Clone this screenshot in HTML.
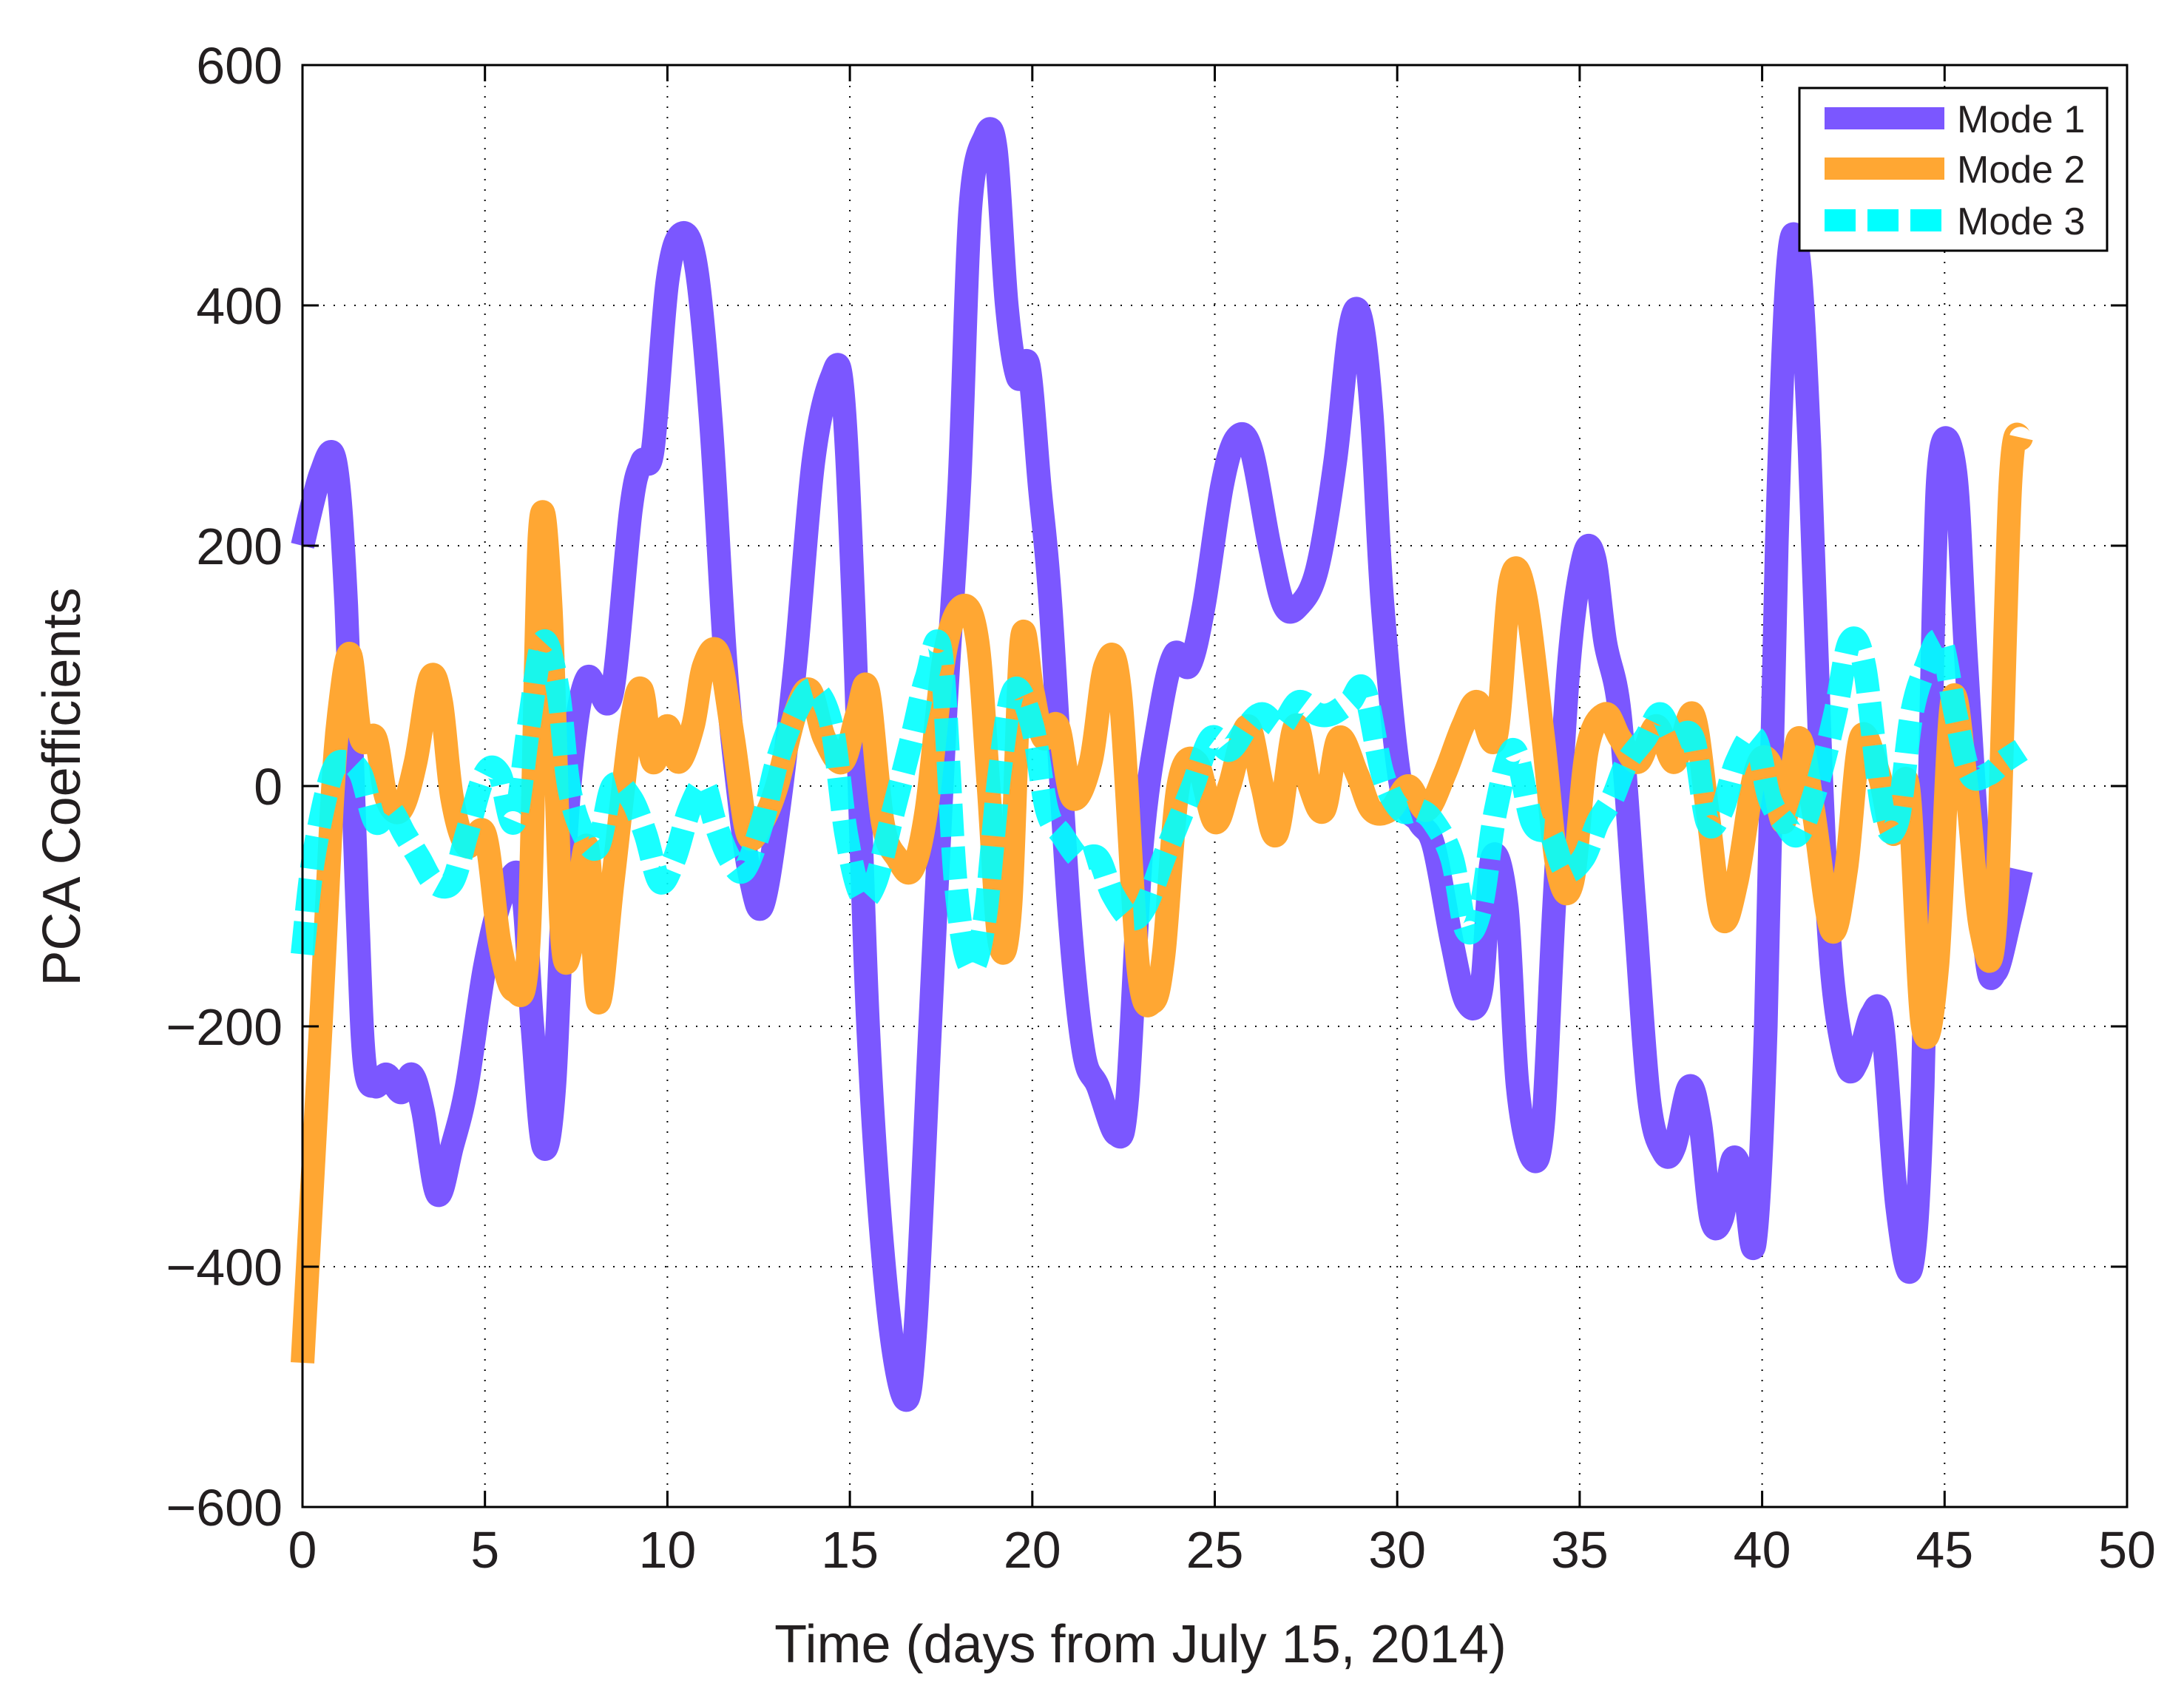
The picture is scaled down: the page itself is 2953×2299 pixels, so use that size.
<!DOCTYPE html>
<html><head><meta charset="utf-8">
<style>
html,body{margin:0;padding:0;background:#fff;}
svg{display:block;font-family:"Liberation Sans","DejaVu Sans",sans-serif;}
</style></head>
<body>
<svg id="chart" width="2953" height="2299" viewBox="0 0 2953 2299" xmlns="http://www.w3.org/2000/svg">
<rect x="0" y="0" width="2953" height="2299" fill="#fff"/>
<g id="grid"></g>
<g id="series"></g>
<rect x="409" y="88" width="2467" height="1950" fill="none" stroke="#000" stroke-width="3"/>
<g id="ticks"></g>
<text x="1542" y="2248" font-size="72" text-anchor="middle" fill="#231f20">Time (days from July 15, 2014)</text>
<text transform="translate(108,1064) rotate(-90)" font-size="72" text-anchor="middle" fill="#231f20">PCA Coefficients</text>
<g>
<rect x="2433" y="119" width="416" height="220" fill="#fff" stroke="#000" stroke-width="3"/>
<line x1="2467" y1="160" x2="2629" y2="160" stroke="#7b57ff" stroke-width="30"/>
<text x="2646" y="179" font-size="52" fill="#231f20">Mode 1</text>
<line x1="2467" y1="228" x2="2629" y2="228" stroke="#ffa733" stroke-width="30"/>
<text x="2646" y="247" font-size="52" fill="#231f20">Mode 2</text>
<line x1="2467" y1="298" x2="2629" y2="298" stroke="#00ffff" stroke-width="30" stroke-dasharray="42,16"/>
<text x="2646" y="317" font-size="52" fill="#231f20">Mode 3</text>
</g>
</svg>
<script>
const xTicks = [0,5,10,15,20,25,30,35,40,45,50];
const yTicks = [-600,-400,-200,0,200,400,600];
const yTickLabels = ["\u2212600","\u2212400","\u2212200","0","200","400","600"];
const mode1Days = [0,0.5,0.9,1.2,1.5,1.7,2,2.3,2.7,3,3.3,3.7,4.1,4.5,5,5.5,6,6.3,6.6,6.9,7.2,7.5,7.8,8.1,8.5,9,9.3,9.6,10,10.4,10.8,11.2,11.6,12,12.3,12.6,13,13.5,14,14.5,14.8,15.1,15.5,16,16.5,16.8,17.2,17.6,18,18.3,18.7,19,19.3,19.6,19.9,20.2,20.5,21,21.4,21.8,22.3,22.6,23,23.5,23.9,24.3,24.7,25.2,25.6,26,26.5,26.9,27.3,27.8,28.3,28.7,29,29.3,29.6,30.1,30.6,31,31.5,31.9,32.3,32.6,33,33.3,33.7,34,34.3,34.7,35.1,35.4,35.7,36.1,36.5,36.9,37.3,37.6,38,38.3,38.6,38.9,39.2,39.5,39.8,40.1,40.4,40.7,41,41.3,41.6,41.9,42.3,42.6,43,43.3,43.7,44.1,44.4,44.7,44.9,45.3,45.6,46.1,46.4,46.8,47.1];
const mode1Values = [200,260,270,150,-100,-230,-250,-240,-255,-240,-270,-340,-300,-250,-150,-90,-80,-200,-300,-250,-50,50,90,80,80,230,270,280,420,460,430,300,100,-20,-80,-100,-30,100,270,340,330,150,-200,-420,-510,-450,-200,50,250,480,540,530,400,340,350,250,150,-100,-220,-250,-290,-260,-50,60,110,100,150,250,290,280,200,150,150,180,270,380,390,310,150,0,-30,-50,-130,-180,-170,-60,-100,-250,-310,-280,-100,100,190,190,120,60,-100,-260,-305,-300,-250,-280,-360,-360,-310,-330,-380,-200,200,430,440,280,20,-150,-230,-230,-190,-200,-350,-400,-250,150,280,260,100,-130,-155,-110,-70];
const mode2Days = [0,0.5,0.8,1,1.3,1.6,2,2.3,2.7,3.1,3.5,3.8,4.1,4.5,5,5.4,5.8,6.2,6.5,6.8,7.1,7.4,7.8,8.1,8.5,9,9.3,9.6,10,10.3,10.7,11,11.4,11.8,12.2,12.6,13,13.5,13.9,14.3,14.8,15.2,15.5,15.9,16.3,16.7,17.1,17.6,18.1,18.5,18.8,19.1,19.4,19.7,20,20.3,20.7,21.1,21.6,22,22.4,22.9,23.3,23.6,24,24.5,25,25.4,25.9,26.3,26.7,27.2,27.6,28,28.4,28.9,29.3,29.8,30.3,30.8,31.3,31.8,32.2,32.7,33.1,33.5,34,34.4,34.8,35.2,35.7,36.1,36.6,37.1,37.6,38.1,38.5,38.9,39.3,39.8,40.2,40.6,41,41.4,41.9,42.3,42.7,43.2,43.6,44,44.4,44.8,45.2,45.6,46,46.4,46.8,47.1];
const mode2Values = [-480,-200,-20,60,110,40,40,-10,-20,20,90,70,-10,-50,-40,-130,-170,-130,210,150,-120,-130,-50,-180,-80,50,80,20,50,20,50,100,110,40,-40,-30,0,60,80,40,20,60,80,-30,-60,-70,-20,110,150,120,0,-130,-100,120,80,40,50,-10,20,100,80,-150,-180,-140,0,20,-30,0,50,0,-40,50,0,-20,40,10,-20,-20,0,-20,10,50,70,40,170,160,40,-70,-80,30,60,40,20,50,20,60,-20,-110,-80,10,20,-30,40,-20,-120,-70,40,10,-40,0,-200,-150,70,0,-120,-110,250,290];
const mode3Days = [0,0.3,0.8,1.2,1.6,2,2.4,2.8,3.2,3.6,4.1,4.5,5,5.4,5.8,6.2,6.6,7,7.3,7.7,8.1,8.5,9,9.4,9.8,10.2,10.6,11,11.3,11.7,12.1,12.6,13,13.5,14,14.5,14.9,15.3,15.7,16.2,16.7,17.1,17.5,17.9,18.3,18.7,19.1,19.5,20,20.4,20.8,21.3,21.8,22.2,22.7,23.1,23.6,24,24.4,24.9,25.4,25.9,26.3,26.8,27.3,27.8,28.2,28.7,29.1,29.6,30.1,30.6,31,31.5,31.9,32.3,32.7,33.2,33.7,34.2,34.6,35.1,35.5,35.9,36.3,36.8,37.2,37.6,38.1,38.5,38.9,39.3,39.8,40.2,40.6,41,41.5,42,42.4,42.8,43.3,43.7,44.1,44.5,44.9,45.3,45.7,46.2,46.6,47.1];
const mode3Values = [-140,-60,10,20,10,-30,-20,-40,-60,-80,-80,-40,10,10,-30,50,120,80,0,-40,-50,0,-10,-40,-80,-60,-20,0,-30,-60,-70,-30,20,60,80,50,-40,-90,-80,-20,40,90,110,-80,-150,-110,10,80,50,-20,-40,-60,-60,-90,-110,-100,-60,-30,0,40,30,50,60,50,70,60,60,70,80,10,-20,-20,-30,-60,-120,-100,-20,30,-30,-40,-70,-60,-30,-10,20,40,60,40,40,-30,-20,20,40,-10,-30,-40,0,60,120,100,-20,-30,60,100,120,60,10,10,20,30];

const L=409,R=2876,T=88,B=2038;
function xs(d){return L+(d-0)/(50-0)*(R-L);}
function ys(v){return B-(v+600)/1200*(B-T);}
const NS="http://www.w3.org/2000/svg";
const grid=document.getElementById('grid'), ticks=document.getElementById('ticks'), series=document.getElementById('series');
function mk(tag,attrs,parent){const e=document.createElementNS(NS,tag);for(const k in attrs)e.setAttribute(k,attrs[k]);parent.appendChild(e);return e;}
xTicks.forEach((t,i)=>{
  const x=xs(t);
  if(t>0&&t<50){const g=mk('line',{x1:x,y1:T,x2:x,y2:B,stroke:'#000','stroke-width':2,'stroke-dasharray':'2,12'},grid);
  
  }
  const a=mk('line',{x1:x,y1:B,x2:x,y2:B-22,stroke:'#000','stroke-width':3},ticks);
  
  
  const b=mk('line',{x1:x,y1:T,x2:x,y2:T+22,stroke:'#000','stroke-width':3},ticks);
  
  
  const tx=mk('text',{x:x,y:2120,'font-size':70,'text-anchor':'middle',fill:'#231f20'},ticks);
  tx.textContent=String(t);
  
  
});
yTicks.forEach((t,i)=>{
  const y=ys(t);
  if(t>-600&&t<600){const g=mk('line',{x1:L,y1:y,x2:R,y2:y,stroke:'#000','stroke-width':2,'stroke-dasharray':'2,12'},grid);
  
  }
  const a=mk('line',{x1:L,y1:y,x2:L+22,y2:y,stroke:'#000','stroke-width':3},ticks);
  
  
  const b=mk('line',{x1:R,y1:y,x2:R-22,y2:y,stroke:'#000','stroke-width':3},ticks);
  
  
  const tx=mk('text',{x:382,y:y+25,'font-size':70,'text-anchor':'end',fill:'#231f20'},ticks);
  tx.textContent=yTickLabels[i];
  
  
});
function smoothPath(days,vals){
  const p=days.map((d,i)=>[xs(d),ys(vals[i])]);
  let s='M'+p[0][0]+','+p[0][1];
  for(let i=0;i<p.length-1;i++){
    const p0=p[i-1]||p[i],p1=p[i],p2=p[i+1],p3=p[i+2]||p[i+1];
    const c1=[p1[0]+(p2[0]-p0[0])/6,p1[1]+(p2[1]-p0[1])/6];
    const c2=[p2[0]-(p3[0]-p1[0])/6,p2[1]-(p3[1]-p1[1])/6];
    s+=' C'+c1[0]+','+c1[1]+' '+c2[0]+','+c2[1]+' '+p2[0]+','+p2[1];
  }
  return s;
}
const s1=mk('path',{d:smoothPath(mode1Days,mode1Values),fill:'none',stroke:'#7b57ff','stroke-width':32,'stroke-linejoin':'round'},series);


const s2=mk('path',{d:smoothPath(mode2Days,mode2Values),fill:'none',stroke:'#ffa733','stroke-width':32,'stroke-linejoin':'round'},series);


const s3=mk('path',{d:smoothPath(mode3Days,mode3Values),fill:'none',stroke:'#00ffff','stroke-opacity':0.9,'stroke-width':32,'stroke-dasharray':'44,14'},series);


</script>
</body></html>
